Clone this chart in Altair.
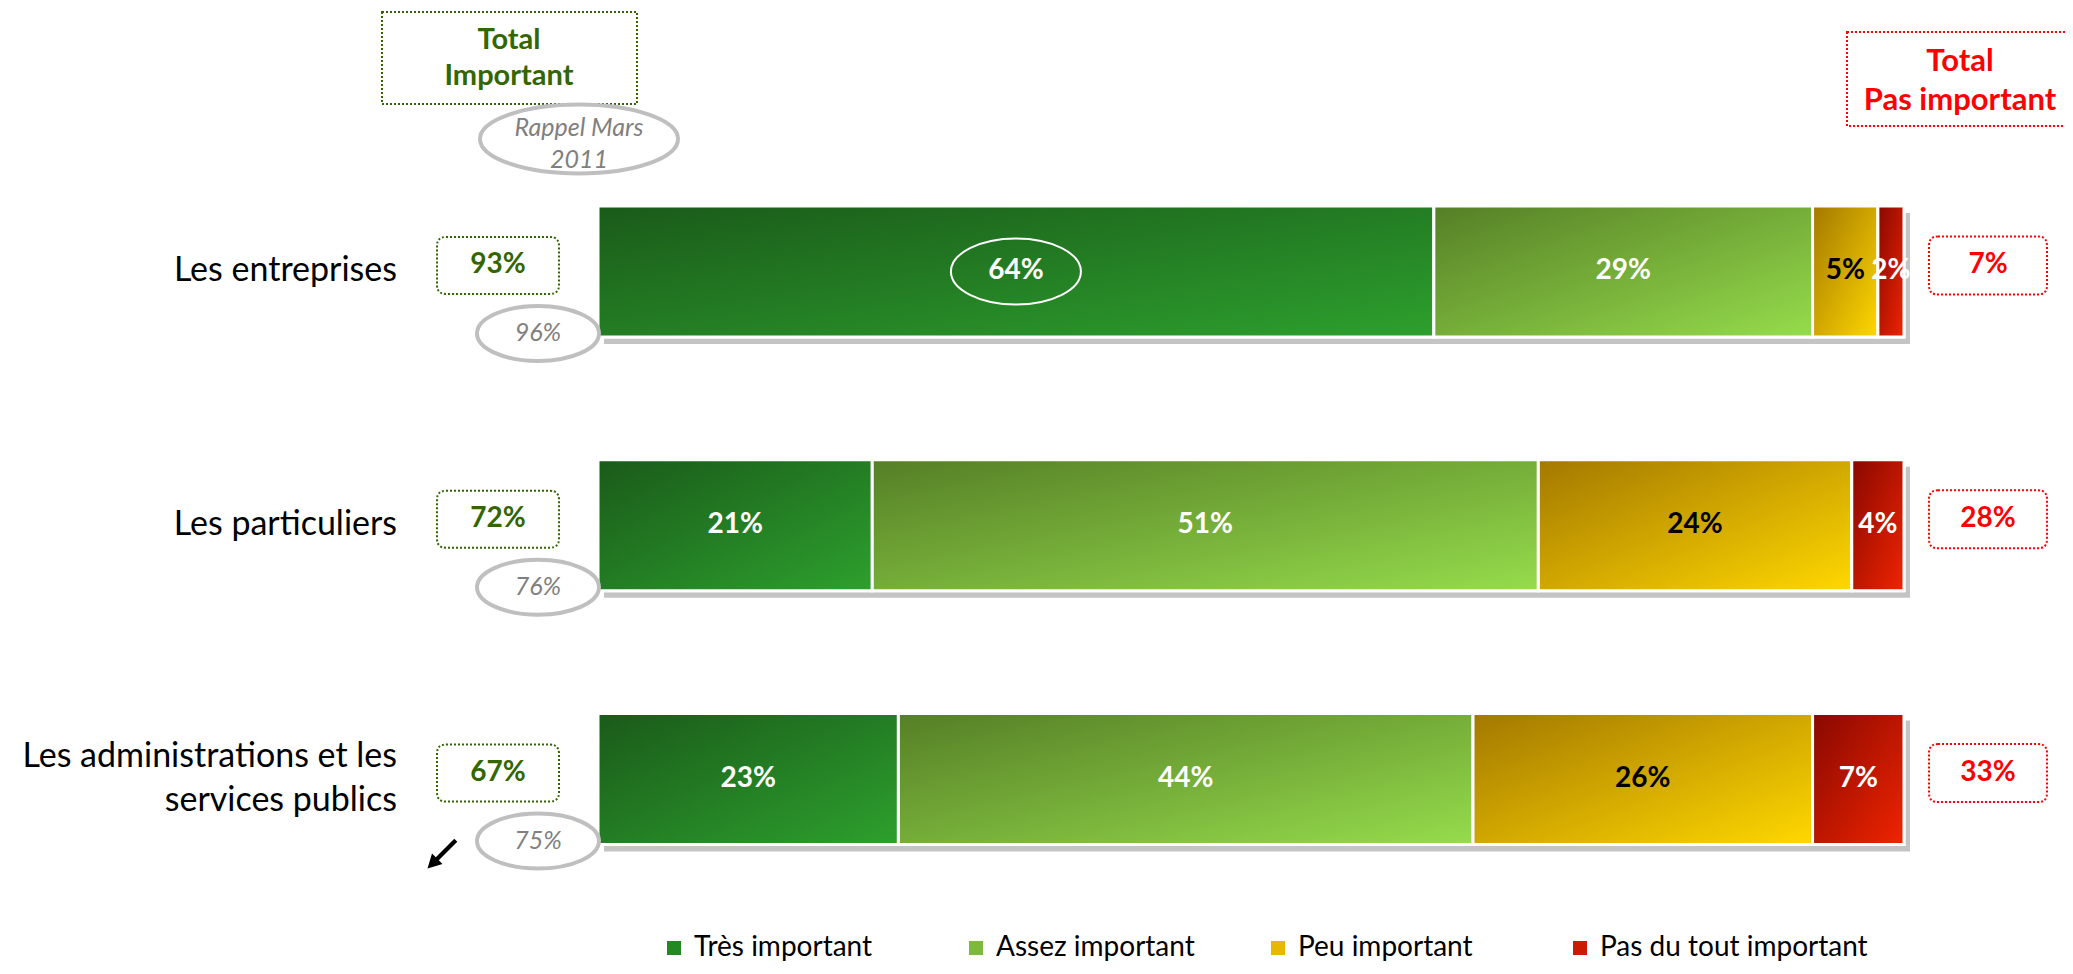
import math
import altair as alt
import pandas as pd

# ---------------- data ----------------
rows = ["Les entreprises", "Les particuliers", "Les administrations et les services publics"]
row_labels = ["Les entreprises", "Les particuliers", "Les administrations et les\nservices publics"]
categories = ["Très important", "Assez important", "Peu important", "Pas du tout important"]
tres_important = [64, 21, 23]
assez_important = [29, 51, 44]
peu_important = [5, 24, 26]
pas_du_tout_important = [2, 4, 7]
total_important = [93, 72, 67]
total_pas_important = [7, 28, 33]
rappel_mars_2011 = [96, 76, 75]

series = [tres_important, assez_important, peu_important, pas_du_tout_important]
bars = pd.DataFrame([
    {"row": r, "cat": c, "order": j, "value": s[i]}
    for j, (c, s) in enumerate(zip(categories, series))
    for i, r in enumerate(rows)
])
side = pd.DataFrame({
    "row": rows, "label": row_labels,
    "imp": [f"{v}%" for v in total_important],
    "pas": [f"{v}%" for v in total_pas_important],
    "rappel": [f"{v}%" for v in rappel_mars_2011],
})
header = pd.DataFrame({"imp": ["Total\nImportant"], "pas": ["Total\nPas important"],
                       "rappel": ["Rappel Mars\n2011"]})

# ---------------- styles ----------------
FONT = "Lato"
GREEN = "#336600"
RED = "#FF0000"
GREY = "#808080"
LGREY = "#BFBFBF"
legend_colors = ["#238A23", "#7DBA3C", "#E6B800", "#CC1A00"]
grad_stops = [("#1A5A1A", "#2DA02D"), ("#557F26", "#96DC4C"),
              ("#A37800", "#FFD800"), ("#880800", "#F02400")]

W, H = 1306, 958


def ellipse_path(w, h):
    ry = h / w
    k = 0.5523
    return (f"M -1,0 C -1,{-k*ry:.4f} {-k:.4f},{-ry:.4f} 0,{-ry:.4f} "
            f"C {k:.4f},{-ry:.4f} 1,{-k*ry:.4f} 1,0 "
            f"C 1,{k*ry:.4f} {k:.4f},{ry:.4f} 0,{ry:.4f} "
            f"C {-k:.4f},{ry:.4f} -1,{k*ry:.4f} -1,0 Z")


def rrect_path(w, h, r):
    hh = h / w
    rr = r / (w / 2)
    return (f"M {-1+rr:.4f},{-hh:.4f} L {1-rr:.4f},{-hh:.4f} Q 1,{-hh:.4f} 1,{-hh+rr:.4f} "
            f"L 1,{hh-rr:.4f} Q 1,{hh:.4f} {1-rr:.4f},{hh:.4f} "
            f"L {-1+rr:.4f},{hh:.4f} Q -1,{hh:.4f} -1,{hh-rr:.4f} "
            f"L -1,{-hh+rr:.4f} Q -1,{-hh:.4f} {-1+rr:.4f},{-hh:.4f} Z")


def arrow_path():
    s2 = math.sqrt(2)
    u = (-1 / s2, 1 / s2)   # towards bottom-left
    n = (1 / s2, 1 / s2)
    tail = (0.78, -0.78)
    tip = (-0.82, 0.82)
    hl, hw, sw = 0.78, 0.42, 0.12
    neck = (tip[0] - u[0] * hl, tip[1] - u[1] * hl)

    def off(p, k):
        return (p[0] + n[0] * k, p[1] + n[1] * k)
    pts = [off(tail, sw), off(neck, sw), off(neck, hw), tip, off(neck, -hw), off(neck, -sw), off(tail, -sw)]
    return "M " + " L ".join(f"{x:.4f},{y:.4f}" for x, y in pts) + " Z"


xs = alt.Scale(domain=[0, 100], range=[0, W])
ys = alt.Scale(domain=rows, range=[136.6, 897.9], paddingInner=0.4837, paddingOuter=0.2418)
Y = alt.Y("row:N", scale=ys, axis=None)

base = alt.Chart(bars).transform_stack(
    stack="value", groupby=["row"], as_=["x0", "x1"],
    sort=[alt.SortField("order", order="ascending")]
).transform_calculate(mid="(datum.x0 + datum.x1) / 2", lab="datum.value + '%'")

shadow = alt.Chart(bars).transform_aggregate(
    total="sum(value)", groupby=["row"]
).mark_bar(color="#C4C4C4", xOffset=6, yOffset=7).encode(
    x=alt.X("total:Q", scale=xs, axis=None), y=Y)

solid = base.mark_bar(stroke="white", strokeWidth=3).encode(
    x=alt.X("x0:Q", scale=xs, axis=None), x2="x1:Q", y=Y,
    color=alt.Color("cat:N", scale=alt.Scale(domain=categories, range=legend_colors),
                    legend=alt.Legend(title=None, orient="none", legendX=62, legendY=926,
                                      direction="horizontal", columns=4, gridAlign="all",
                                      symbolType="square", symbolSize=196, symbolStrokeWidth=0,
                                      labelFont=FONT, labelFontSize=28, labelColor="black",
                                      labelLimit=500, labelOffset=6, columnPadding=0)))

grad_layers = []
for c, (c0, c1) in zip(categories, grad_stops):
    g = alt.LinearGradient(gradient="linear",
                           stops=[alt.GradientStop(color=c0, offset=0),
                                  alt.GradientStop(color=c1, offset=1)],
                           x1=0, y1=0, x2=1, y2=1)
    grad_layers.append(
        base.transform_filter(alt.datum.cat == c).mark_bar(fill=g, stroke="white", strokeWidth=3)
        .encode(x=alt.X("x0:Q", scale=xs, axis=None), x2="x1:Q", y=Y))

bar_text = base.mark_text(font=FONT, fontWeight="bold", fontSize=28).encode(
    x=alt.X("mid:Q", scale=xs, axis=None), y=Y, text="lab:N",
    color=alt.condition(alt.datum.cat == "Peu important", alt.value("black"), alt.value("white")))

highlight = base.transform_filter(
    (alt.datum.row == rows[0]) & (alt.datum.cat == categories[0])
).mark_point(shape=ellipse_path(130, 66), size=130 ** 2, filled=False, stroke="white",
             strokeWidth=2, opacity=1).encode(x=alt.X("mid:Q", scale=xs, axis=None), y=Y)

sc = alt.Chart(side)
row_text_1 = sc.transform_filter("indexof(datum.label, '\\n') < 0").mark_text(
    align="right", baseline="middle", font=FONT, fontSize=34, color="black").encode(
    x=alt.value(-201), y=Y, text="label:N")
row_text_2 = sc.transform_filter("indexof(datum.label, '\\n') >= 0").mark_text(
    align="right", baseline="middle", font=FONT, fontSize=34, lineBreak="\n", lineHeight=44,
    dy=-22, color="black").encode(
    x=alt.value(-201), y=Y, text="label:N")
imp_box = sc.mark_point(shape=rrect_path(122, 57, 9), size=122 ** 2, filled=False, stroke=GREEN,
                        strokeWidth=2, strokeDash=[2, 2], opacity=1, yOffset=-6).encode(
    x=alt.value(-100), y=Y)
imp_text = sc.mark_text(font=FONT, fontWeight="bold", fontSize=28, color=GREEN, yOffset=-6).encode(
    x=alt.value(-100), y=Y, text="imp:N")
rap_ell = sc.mark_point(shape=ellipse_path(122, 55), size=122 ** 2, filled=True, fill="white",
                        stroke=LGREY, strokeWidth=4, opacity=1, yOffset=62).encode(
    x=alt.value(-60), y=Y)
rap_text = sc.mark_text(font=FONT, fontStyle="italic", fontSize=25, color=GREY, yOffset=62).encode(
    x=alt.value(-60), y=Y, text="rappel:N")
pas_box = sc.mark_point(shape=rrect_path(118, 58, 9), size=118 ** 2, filled=False, stroke=RED,
                        strokeWidth=2, strokeDash=[2, 2], opacity=1, yOffset=-6).encode(
    x=alt.value(1390), y=Y)
pas_text = sc.mark_text(font=FONT, fontWeight="bold", fontSize=28, color=RED, yOffset=-6).encode(
    x=alt.value(1390), y=Y, text="pas:N")
arrow = sc.transform_filter(alt.datum.row == rows[2]).mark_point(
    shape=arrow_path(), size=1250, filled=True, fill="black", strokeWidth=0, opacity=1,
    yOffset=75).encode(x=alt.value(-156), y=Y)

hc = alt.Chart(header)
imp_hbox = hc.mark_rect(fill="white", stroke=GREEN, strokeWidth=2, strokeDash=[2, 2]).encode(
    x=alt.value(-216), x2=alt.value(39), y=alt.value(4), y2=alt.value(96))
imp_htext = hc.mark_text(font=FONT, fontWeight="bold", fontSize=29, color=GREEN,
                         lineBreak="\n", lineHeight=36, baseline="middle").encode(
    x=alt.value(-89), y=alt.value(32), text="imp:N")
rap_hell = hc.mark_point(shape=ellipse_path(198, 69), size=198 ** 2, filled=True, fill="white",
                         stroke=LGREY, strokeWidth=4, opacity=1).encode(
    x=alt.value(-19), y=alt.value(131))
rap_htext = hc.mark_text(font=FONT, fontStyle="italic", fontSize=25, color=GREY,
                         lineBreak="\n", lineHeight=32, baseline="middle").encode(
    x=alt.value(-19), y=alt.value(120), text="rappel:N")
pas_hbox = hc.mark_rect(fill="white", stroke=RED, strokeWidth=2, strokeDash=[2, 2]).encode(
    x=alt.value(1249), x2=alt.value(1620), y=alt.value(24), y2=alt.value(118))
pas_htext = hc.mark_text(font=FONT, fontWeight="bold", fontSize=31, color=RED,
                         lineBreak="\n", lineHeight=39, baseline="middle").encode(
    x=alt.value(1362), y=alt.value(54), text="pas:N")

chart = alt.layer(
    imp_hbox, imp_htext, rap_hell, rap_htext, pas_hbox, pas_htext,
    shadow, solid, *grad_layers, bar_text, highlight,
    row_text_1, row_text_2, imp_box, imp_text, rap_ell, rap_text, pas_box, pas_text, arrow,
).properties(
    width=W, height=H,
    padding={"left": 590, "top": 0, "right": 161, "bottom": 0},
    autosize=alt.AutoSizeParams(type="none"),
    background="white",
).configure_view(strokeWidth=0)

chart.save("out.html", embed_options={"renderer": "svg", "actions": False})
